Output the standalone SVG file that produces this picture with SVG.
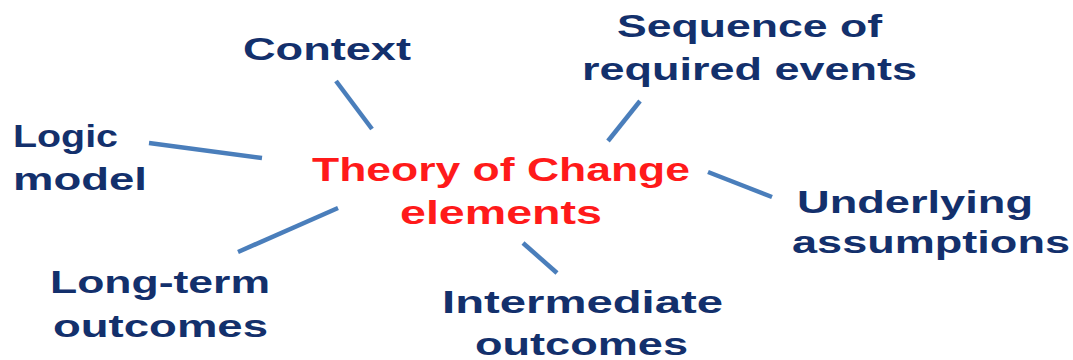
<svg xmlns="http://www.w3.org/2000/svg" width="1073" height="360" viewBox="0 0 1073 360">
  <style>
    .lbl { font-family: "Liberation Sans", Arial, sans-serif; font-weight: bold; font-size: 31px; fill: #13306c; }
    .core { font-family: "Liberation Sans", Arial, sans-serif; font-weight: bold; font-size: 34px; fill: #ff1a1a; text-anchor: middle; }
    .spoke { stroke: #4a7ebb; stroke-width: 4.5; stroke-linecap: butt; fill: none; }
  </style>
  <rect width="1073" height="360" fill="#ffffff"/>

  <!-- spokes from the central element to each surrounding topic -->
  <g id="connectors">
    <line class="spoke" x1="336" y1="81" x2="372" y2="129"/>
    <line class="spoke" x1="640" y1="101" x2="608" y2="141"/>
    <line class="spoke" x1="149" y1="143" x2="262" y2="158"/>
    <line class="spoke" x1="708" y1="172" x2="772" y2="197"/>
    <line class="spoke" x1="338" y1="208" x2="238" y2="252"/>
    <line class="spoke" x1="523" y1="243" x2="557" y2="273"/>
  </g>

  <g id="center">
    <text class="core" x="501" y="181" textLength="378" lengthAdjust="spacingAndGlyphs">Theory of Change</text>
    <text class="core" x="501" y="224" textLength="202" lengthAdjust="spacingAndGlyphs">elements</text>
  </g>

  <g id="context">
    <text class="lbl" x="243" y="60" textLength="168" lengthAdjust="spacingAndGlyphs">Context</text>
  </g>

  <g id="sequence">
    <text class="lbl" x="617" y="37" textLength="265" lengthAdjust="spacingAndGlyphs">Sequence of</text>
    <text class="lbl" x="582" y="80" textLength="335" lengthAdjust="spacingAndGlyphs">required events</text>
  </g>

  <g id="logic-model">
    <text class="lbl" x="13" y="147" textLength="105" lengthAdjust="spacingAndGlyphs">Logic</text>
    <text class="lbl" x="13" y="190" textLength="134" lengthAdjust="spacingAndGlyphs">model</text>
  </g>

  <g id="assumptions">
    <text class="lbl" x="797" y="213" textLength="236" lengthAdjust="spacingAndGlyphs">Underlying</text>
    <text class="lbl" x="792" y="253" textLength="278" lengthAdjust="spacingAndGlyphs">assumptions</text>
  </g>

  <g id="long-term">
    <text class="lbl" x="50" y="293" textLength="220" lengthAdjust="spacingAndGlyphs">Long-term</text>
    <text class="lbl" x="53" y="337" textLength="215" lengthAdjust="spacingAndGlyphs">outcomes</text>
  </g>

  <g id="intermediate">
    <text class="lbl" x="442" y="313" textLength="281" lengthAdjust="spacingAndGlyphs">Intermediate</text>
    <text class="lbl" x="475" y="355" textLength="213" lengthAdjust="spacingAndGlyphs">outcomes</text>
  </g>
</svg>
